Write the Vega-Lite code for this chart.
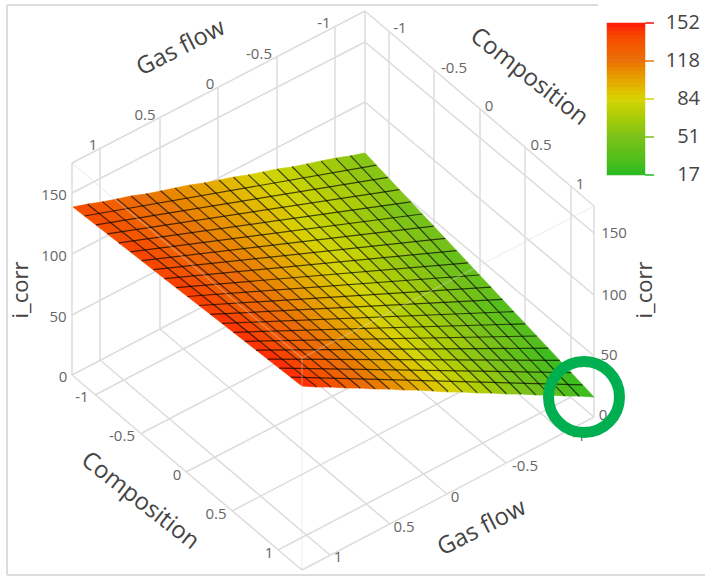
{"$schema":"https://vega.github.io/schema/vega-lite/v6.json","width":705,"height":576,"padding":0,"autosize":{"type":"none"},"background":"white","config":{"view":{"stroke":null}},
"datasets":{
"walls":[
{"x":72,"y":163,"x2":72,"y2":375},{"x":100,"y":148,"x2":100,"y2":360},{"x":160,"y":117,"x2":160,"y2":329},{"x":218,"y":88,"x2":218,"y2":299},{"x":277,"y":57,"x2":277,"y2":268},{"x":335,"y":27,"x2":335,"y2":238},{"x":365,"y":11,"x2":365,"y2":222},
{"x":72,"y":163,"x2":365,"y2":11},{"x":72,"y":193,"x2":365,"y2":42},{"x":72,"y":254,"x2":365,"y2":102},{"x":72,"y":315,"x2":365,"y2":162},{"x":72,"y":375,"x2":365,"y2":222},
{"x":389,"y":31,"x2":389,"y2":242},{"x":434,"y":70,"x2":434,"y2":281},{"x":480,"y":109,"x2":480,"y2":320},{"x":525,"y":147,"x2":525,"y2":358},{"x":571,"y":186,"x2":571,"y2":397},{"x":594,"y":206,"x2":594,"y2":417},
{"x":365,"y":11,"x2":594,"y2":206},{"x":365,"y":42,"x2":594,"y2":233},{"x":365,"y":102,"x2":594,"y2":295},{"x":365,"y":162,"x2":594,"y2":356},{"x":365,"y":222,"x2":594,"y2":417},
{"x":72,"y":375,"x2":302,"y2":570},{"x":302,"y":570,"x2":594,"y2":417},
{"x":95,"y":395,"x2":389,"y2":242},{"x":142,"y":433,"x2":434,"y2":281},{"x":186,"y":472,"x2":480,"y2":320},{"x":232,"y":511,"x2":525,"y2":358},{"x":278,"y":550,"x2":571,"y2":397},
{"x":100,"y":360,"x2":330,"y2":555},{"x":160,"y":329,"x2":390,"y2":524},{"x":218,"y":299,"x2":447,"y2":494},{"x":277,"y":268,"x2":506,"y2":463},{"x":335,"y":238,"x2":564,"y2":433}],
"frame":[{"x":7,"y":5,"x2":598,"y2":5},{"x":7,"y":5,"x2":7,"y2":575},{"x":7,"y":575,"x2":705,"y2":575}],
"cells":[
{"v":137,"type":"Polygon","coordinates":[[[73,207],[88,204],[133,241],[119,243],[73,207]]]},
{"v":133,"type":"Polygon","coordinates":[[[88,204],[102,202],[148,239],[133,241],[88,204]]]},
{"v":129,"type":"Polygon","coordinates":[[[102,202],[117,199],[163,237],[148,239],[102,202]]]},
{"v":124,"type":"Polygon","coordinates":[[[117,199],[131,196],[177,235],[163,237],[117,199]]]},
{"v":120,"type":"Polygon","coordinates":[[[131,196],[146,194],[192,233],[177,235],[131,196]]]},
{"v":116,"type":"Polygon","coordinates":[[[146,194],[161,191],[206,231],[192,233],[146,194]]]},
{"v":111,"type":"Polygon","coordinates":[[[161,191],[175,188],[221,228],[206,231],[161,191]]]},
{"v":107,"type":"Polygon","coordinates":[[[175,188],[190,185],[236,226],[221,228],[175,188]]]},
{"v":103,"type":"Polygon","coordinates":[[[190,185],[204,183],[250,224],[236,226],[190,185]]]},
{"v":98,"type":"Polygon","coordinates":[[[204,183],[219,180],[265,222],[250,224],[204,183]]]},
{"v":94,"type":"Polygon","coordinates":[[[219,180],[234,177],[279,220],[265,222],[219,180]]]},
{"v":90,"type":"Polygon","coordinates":[[[234,177],[248,175],[294,218],[279,220],[234,177]]]},
{"v":85,"type":"Polygon","coordinates":[[[248,175],[263,172],[309,216],[294,218],[248,175]]]},
{"v":81,"type":"Polygon","coordinates":[[[263,172],[277,169],[323,214],[309,216],[263,172]]]},
{"v":77,"type":"Polygon","coordinates":[[[277,169],[292,167],[338,212],[323,214],[277,169]]]},
{"v":72,"type":"Polygon","coordinates":[[[292,167],[307,164],[352,210],[338,212],[292,167]]]},
{"v":68,"type":"Polygon","coordinates":[[[307,164],[321,161],[367,208],[352,210],[307,164]]]},
{"v":64,"type":"Polygon","coordinates":[[[321,161],[336,158],[382,206],[367,208],[321,161]]]},
{"v":59,"type":"Polygon","coordinates":[[[336,158],[350,156],[396,204],[382,206],[336,158]]]},
{"v":55,"type":"Polygon","coordinates":[[[350,156],[365,153],[411,202],[396,204],[350,156]]]},
{"v":140,"type":"Polygon","coordinates":[[[119,243],[133,241],[179,277],[165,279],[119,243]]]},
{"v":135,"type":"Polygon","coordinates":[[[133,241],[148,239],[194,276],[179,277],[133,241]]]},
{"v":130,"type":"Polygon","coordinates":[[[148,239],[163,237],[208,274],[194,276],[148,239]]]},
{"v":125,"type":"Polygon","coordinates":[[[163,237],[177,235],[223,273],[208,274],[163,237]]]},
{"v":120,"type":"Polygon","coordinates":[[[177,235],[192,233],[238,272],[223,273],[177,235]]]},
{"v":115,"type":"Polygon","coordinates":[[[192,233],[206,231],[252,270],[238,272],[192,233]]]},
{"v":111,"type":"Polygon","coordinates":[[[206,231],[221,228],[267,269],[252,270],[206,231]]]},
{"v":106,"type":"Polygon","coordinates":[[[221,228],[236,226],[281,267],[267,269],[221,228]]]},
{"v":101,"type":"Polygon","coordinates":[[[236,226],[250,224],[296,266],[281,267],[236,226]]]},
{"v":96,"type":"Polygon","coordinates":[[[250,224],[265,222],[311,265],[296,266],[250,224]]]},
{"v":91,"type":"Polygon","coordinates":[[[265,222],[279,220],[325,263],[311,265],[265,222]]]},
{"v":86,"type":"Polygon","coordinates":[[[279,220],[294,218],[340,262],[325,263],[279,220]]]},
{"v":81,"type":"Polygon","coordinates":[[[294,218],[309,216],[354,260],[340,262],[294,218]]]},
{"v":77,"type":"Polygon","coordinates":[[[309,216],[323,214],[369,259],[354,260],[309,216]]]},
{"v":72,"type":"Polygon","coordinates":[[[323,214],[338,212],[384,258],[369,259],[323,214]]]},
{"v":67,"type":"Polygon","coordinates":[[[338,212],[352,210],[398,256],[384,258],[338,212]]]},
{"v":62,"type":"Polygon","coordinates":[[[352,210],[367,208],[413,255],[398,256],[352,210]]]},
{"v":57,"type":"Polygon","coordinates":[[[367,208],[382,206],[427,253],[413,255],[367,208]]]},
{"v":52,"type":"Polygon","coordinates":[[[382,206],[396,204],[442,252],[427,253],[382,206]]]},
{"v":47,"type":"Polygon","coordinates":[[[396,204],[411,202],[457,251],[442,252],[396,204]]]},
{"v":142,"type":"Polygon","coordinates":[[[165,279],[179,277],[225,314],[210,314],[165,279]]]},
{"v":137,"type":"Polygon","coordinates":[[[179,277],[194,276],[240,313],[225,314],[179,277]]]},
{"v":131,"type":"Polygon","coordinates":[[[194,276],[208,274],[254,312],[240,313],[194,276]]]},
{"v":126,"type":"Polygon","coordinates":[[[208,274],[223,273],[269,311],[254,312],[208,274]]]},
{"v":121,"type":"Polygon","coordinates":[[[223,273],[238,272],[283,311],[269,311],[223,273]]]},
{"v":115,"type":"Polygon","coordinates":[[[238,272],[252,270],[298,310],[283,311],[238,272]]]},
{"v":110,"type":"Polygon","coordinates":[[[252,270],[267,269],[313,309],[298,310],[252,270]]]},
{"v":104,"type":"Polygon","coordinates":[[[267,269],[281,267],[327,308],[313,309],[267,269]]]},
{"v":99,"type":"Polygon","coordinates":[[[281,267],[296,266],[342,308],[327,308],[281,267]]]},
{"v":94,"type":"Polygon","coordinates":[[[296,266],[311,265],[356,307],[342,308],[296,266]]]},
{"v":88,"type":"Polygon","coordinates":[[[311,265],[325,263],[371,306],[356,307],[311,265]]]},
{"v":83,"type":"Polygon","coordinates":[[[325,263],[340,262],[386,305],[371,306],[325,263]]]},
{"v":77,"type":"Polygon","coordinates":[[[340,262],[354,260],[400,305],[386,305],[340,262]]]},
{"v":72,"type":"Polygon","coordinates":[[[354,260],[369,259],[415,304],[400,305],[354,260]]]},
{"v":67,"type":"Polygon","coordinates":[[[369,259],[384,258],[429,303],[415,304],[369,259]]]},
{"v":61,"type":"Polygon","coordinates":[[[384,258],[398,256],[444,302],[429,303],[384,258]]]},
{"v":56,"type":"Polygon","coordinates":[[[398,256],[413,255],[459,302],[444,302],[398,256]]]},
{"v":50,"type":"Polygon","coordinates":[[[413,255],[427,253],[473,301],[459,302],[413,255]]]},
{"v":45,"type":"Polygon","coordinates":[[[427,253],[442,252],[488,300],[473,301],[427,253]]]},
{"v":40,"type":"Polygon","coordinates":[[[442,252],[457,251],[502,299],[488,300],[442,252]]]},
{"v":145,"type":"Polygon","coordinates":[[[210,314],[225,314],[271,350],[256,350],[210,314]]]},
{"v":139,"type":"Polygon","coordinates":[[[225,314],[240,313],[285,350],[271,350],[225,314]]]},
{"v":133,"type":"Polygon","coordinates":[[[240,313],[254,312],[300,350],[285,350],[240,313]]]},
{"v":127,"type":"Polygon","coordinates":[[[254,312],[269,311],[315,350],[300,350],[254,312]]]},
{"v":121,"type":"Polygon","coordinates":[[[269,311],[283,311],[329,350],[315,350],[269,311]]]},
{"v":115,"type":"Polygon","coordinates":[[[283,311],[298,310],[344,350],[329,350],[283,311]]]},
{"v":109,"type":"Polygon","coordinates":[[[298,310],[313,309],[358,350],[344,350],[298,310]]]},
{"v":103,"type":"Polygon","coordinates":[[[313,309],[327,308],[373,349],[358,350],[313,309]]]},
{"v":97,"type":"Polygon","coordinates":[[[327,308],[342,308],[388,349],[373,349],[327,308]]]},
{"v":91,"type":"Polygon","coordinates":[[[342,308],[356,307],[402,349],[388,349],[342,308]]]},
{"v":85,"type":"Polygon","coordinates":[[[356,307],[371,306],[417,349],[402,349],[356,307]]]},
{"v":79,"type":"Polygon","coordinates":[[[371,306],[386,305],[431,349],[417,349],[371,306]]]},
{"v":73,"type":"Polygon","coordinates":[[[386,305],[400,305],[446,349],[431,349],[386,305]]]},
{"v":68,"type":"Polygon","coordinates":[[[400,305],[415,304],[461,349],[446,349],[400,305]]]},
{"v":62,"type":"Polygon","coordinates":[[[415,304],[429,303],[475,349],[461,349],[415,304]]]},
{"v":56,"type":"Polygon","coordinates":[[[429,303],[444,302],[490,349],[475,349],[429,303]]]},
{"v":50,"type":"Polygon","coordinates":[[[444,302],[459,302],[504,349],[490,349],[444,302]]]},
{"v":44,"type":"Polygon","coordinates":[[[459,302],[473,301],[519,348],[504,349],[459,302]]]},
{"v":38,"type":"Polygon","coordinates":[[[473,301],[488,300],[534,348],[519,348],[473,301]]]},
{"v":32,"type":"Polygon","coordinates":[[[488,300],[502,299],[548,348],[534,348],[488,300]]]},
{"v":147,"type":"Polygon","coordinates":[[[256,350],[271,350],[317,387],[302,386],[256,350]]]},
{"v":141,"type":"Polygon","coordinates":[[[271,350],[285,350],[331,387],[317,387],[271,350]]]},
{"v":134,"type":"Polygon","coordinates":[[[285,350],[300,350],[346,388],[331,387],[285,350]]]},
{"v":128,"type":"Polygon","coordinates":[[[300,350],[315,350],[360,388],[346,388],[300,350]]]},
{"v":121,"type":"Polygon","coordinates":[[[315,350],[329,350],[375,389],[360,388],[315,350]]]},
{"v":115,"type":"Polygon","coordinates":[[[329,350],[344,350],[390,389],[375,389],[329,350]]]},
{"v":108,"type":"Polygon","coordinates":[[[344,350],[358,350],[404,390],[390,389],[344,350]]]},
{"v":102,"type":"Polygon","coordinates":[[[358,350],[373,349],[419,390],[404,390],[358,350]]]},
{"v":96,"type":"Polygon","coordinates":[[[373,349],[388,349],[433,391],[419,390],[373,349]]]},
{"v":89,"type":"Polygon","coordinates":[[[388,349],[402,349],[448,392],[433,391],[388,349]]]},
{"v":83,"type":"Polygon","coordinates":[[[402,349],[417,349],[463,392],[448,392],[402,349]]]},
{"v":76,"type":"Polygon","coordinates":[[[417,349],[431,349],[477,393],[463,392],[417,349]]]},
{"v":70,"type":"Polygon","coordinates":[[[431,349],[446,349],[492,393],[477,393],[431,349]]]},
{"v":63,"type":"Polygon","coordinates":[[[446,349],[461,349],[506,394],[492,393],[446,349]]]},
{"v":57,"type":"Polygon","coordinates":[[[461,349],[475,349],[521,394],[506,394],[461,349]]]},
{"v":50,"type":"Polygon","coordinates":[[[475,349],[490,349],[536,395],[521,394],[475,349]]]},
{"v":44,"type":"Polygon","coordinates":[[[490,349],[504,349],[550,395],[536,395],[490,349]]]},
{"v":37,"type":"Polygon","coordinates":[[[504,349],[519,348],[565,396],[550,395],[504,349]]]},
{"v":31,"type":"Polygon","coordinates":[[[519,348],[534,348],[579,396],[565,396],[519,348]]]},
{"v":24,"type":"Polygon","coordinates":[[[534,348],[548,348],[594,397],[579,396],[534,348]]]}],
"mesh":[
{"x":87.6,"y":204.3,"x2":316.6,"y2":386.6},{"x":102.2,"y":201.6,"x2":331.2,"y2":387.1},{"x":116.8,"y":198.9,"x2":345.8,"y2":387.7},{"x":131.4,"y":196.2,"x2":360.4,"y2":388.2},{"x":146,"y":193.5,"x2":375,"y2":388.8},{"x":160.6,"y":190.8,"x2":389.6,"y2":389.3},{"x":175.2,"y":188.1,"x2":404.2,"y2":389.9},{"x":189.8,"y":185.4,"x2":418.8,"y2":390.4},{"x":204.4,"y":182.7,"x2":433.4,"y2":391},{"x":219,"y":180,"x2":448,"y2":391.5},{"x":233.6,"y":177.3,"x2":462.6,"y2":392.1},{"x":248.2,"y":174.6,"x2":477.2,"y2":392.6},{"x":262.8,"y":171.9,"x2":491.8,"y2":393.2},{"x":277.4,"y":169.2,"x2":506.4,"y2":393.7},{"x":292,"y":166.5,"x2":521,"y2":394.3},{"x":306.6,"y":163.8,"x2":535.6,"y2":394.8},{"x":321.2,"y":161.1,"x2":550.2,"y2":395.4},{"x":335.8,"y":158.4,"x2":564.8,"y2":395.9},{"x":350.4,"y":155.7,"x2":579.4,"y2":396.5},
{"x":84.5,"y":216,"x2":376.5,"y2":165.2},{"x":95.9,"y":224.9,"x2":387.9,"y2":177.4},{"x":107.4,"y":233.9,"x2":399.4,"y2":189.6},{"x":118.8,"y":242.8,"x2":410.8,"y2":201.8},{"x":130.3,"y":251.8,"x2":422.3,"y2":214},{"x":141.7,"y":260.7,"x2":433.7,"y2":226.2},{"x":153.2,"y":269.7,"x2":445.2,"y2":238.4},{"x":164.6,"y":278.6,"x2":456.6,"y2":250.6},{"x":176.1,"y":287.6,"x2":468.1,"y2":262.8},{"x":187.5,"y":296.5,"x2":479.5,"y2":275},{"x":199,"y":305.5,"x2":491,"y2":287.2},{"x":210.4,"y":314.4,"x2":502.4,"y2":299.4},{"x":221.9,"y":323.4,"x2":513.9,"y2":311.6},{"x":233.3,"y":332.3,"x2":525.3,"y2":323.8},{"x":244.8,"y":341.3,"x2":536.8,"y2":336},{"x":256.2,"y":350.2,"x2":548.2,"y2":348.2},{"x":267.7,"y":359.2,"x2":559.7,"y2":360.4},{"x":279.1,"y":368.1,"x2":571.1,"y2":372.6},{"x":290.6,"y":377.1,"x2":582.6,"y2":384.8}],
"faint":[{"x":72,"y":163,"x2":302,"y2":358},{"x":302,"y":358,"x2":594,"y2":206},{"x":302,"y":358,"x2":302,"y2":570}],
"ticksLabels":[
{"t":"1","x":93,"y":145},{"t":"0.5","x":145,"y":115},{"t":"0","x":210,"y":84},{"t":"-0.5","x":259,"y":54},{"t":"-1","x":324,"y":23},
{"t":"-1","x":400,"y":28},{"t":"-0.5","x":454,"y":68},{"t":"0","x":489,"y":106},{"t":"0.5","x":541,"y":145},{"t":"1","x":580,"y":184},
{"t":"150","x":54,"y":195},{"t":"100","x":54,"y":256},{"t":"50","x":58,"y":317},{"t":"0","x":63,"y":377},
{"t":"150","x":614,"y":233},{"t":"100","x":614,"y":295},{"t":"50","x":609,"y":355},{"t":"0","x":603,"y":415},
{"t":"-1","x":82,"y":397},{"t":"-0.5","x":122,"y":436},{"t":"0","x":177,"y":475},{"t":"0.5","x":216,"y":514},{"t":"1","x":269,"y":553},
{"t":"1","x":338,"y":557},{"t":"0.5","x":404,"y":527},{"t":"0","x":455,"y":497},{"t":"-0.5","x":525,"y":466},{"t":"-1","x":579,"y":436}],
"legendTicks":[{"v":152,"t":"152","y":23},{"v":118,"t":"118","y":61},{"v":84,"t":"84","y":99},{"v":51,"t":"51","y":137},{"v":17,"t":"17","y":175}],
"colorbar":[{"v":150,"y":23,"y2":27},{"v":147,"y":27,"y2":31},{"v":143,"y":31,"y2":35},{"v":139,"y":35,"y2":39},{"v":136,"y":39,"y2":43},{"v":132,"y":43,"y2":47},{"v":129,"y":47,"y2":51},{"v":125,"y":51,"y2":55},{"v":122,"y":55,"y2":59},{"v":118,"y":59,"y2":63},{"v":115,"y":63,"y2":67},{"v":111,"y":67,"y2":71},{"v":107,"y":71,"y2":75},{"v":104,"y":75,"y2":79},{"v":100,"y":79,"y2":83},{"v":97,"y":83,"y2":87},{"v":93,"y":87,"y2":91},{"v":90,"y":91,"y2":95},{"v":86,"y":95,"y2":99},{"v":83,"y":99,"y2":103},{"v":79,"y":103,"y2":107},{"v":75,"y":107,"y2":111},{"v":72,"y":111,"y2":115},{"v":68,"y":115,"y2":119},{"v":65,"y":119,"y2":123},{"v":61,"y":123,"y2":127},{"v":58,"y":127,"y2":131},{"v":54,"y":131,"y2":135},{"v":51,"y":135,"y2":139},{"v":47,"y":139,"y2":143},{"v":43,"y":143,"y2":147},{"v":40,"y":147,"y2":151},{"v":36,"y":151,"y2":155},{"v":33,"y":155,"y2":159},{"v":29,"y":159,"y2":163},{"v":26,"y":163,"y2":167},{"v":22,"y":167,"y2":171},{"v":19,"y":171,"y2":175}]
},
"layer":[
{"data":{"name":"frame"},"mark":{"type":"rule","stroke":"#d2d2d2","strokeWidth":1.5},"encoding":{"x":{"field":"x","type":"quantitative","scale":{"domain":[0,705],"nice":false,"zero":false},"axis":null},"y":{"field":"y","type":"quantitative","scale":{"domain":[576,0],"nice":false,"zero":false},"axis":null},"x2":{"field":"x2"},"y2":{"field":"y2"}}},
{"data":{"name":"walls"},"mark":{"type":"rule","stroke":"#dcdcdc","strokeWidth":1.5},"encoding":{"x":{"field":"x","type":"quantitative","axis":null},"y":{"field":"y","type":"quantitative","axis":null},"x2":{"field":"x2"},"y2":{"field":"y2"}}},
{"data":{"name":"cells"},"projection":{"type":"identity","scale":1,"translate":[0,0]},"mark":{"type":"geoshape","strokeWidth":0.7},"encoding":{
"fill":{"field":"v","type":"quantitative","scale":{"domain":[17,51,84,118,152],"range":["#22bb22","#7cc21a","#d6d40a","#ea720c","#ff0f0a"]},"legend":null},
"stroke":{"field":"v","type":"quantitative","scale":{"domain":[17,51,84,118,152],"range":["#22bb22","#7cc21a","#d6d40a","#ea720c","#ff0f0a"]},"legend":null}}},
{"data":{"name":"mesh"},"mark":{"type":"rule","stroke":"#000000","strokeWidth":1.2,"opacity":0.68},"encoding":{"x":{"field":"x","type":"quantitative","axis":null},"y":{"field":"y","type":"quantitative","axis":null},"x2":{"field":"x2"},"y2":{"field":"y2"}}},
{"data":{"name":"faint"},"mark":{"type":"rule","stroke":"#dddddd","strokeWidth":1.2,"opacity":0.4},"encoding":{"x":{"field":"x","type":"quantitative","axis":null},"y":{"field":"y","type":"quantitative","axis":null},"x2":{"field":"x2"},"y2":{"field":"y2"}}},
{"data":{"name":"colorbar"},"mark":{"type":"rect","strokeWidth":0.5},"encoding":{"x":{"datum":607,"type":"quantitative","axis":null},"x2":{"datum":645},"y":{"field":"y","type":"quantitative","axis":null},"y2":{"field":"y2"},"fill":{"field":"v","type":"quantitative","legend":null},"stroke":{"field":"v","type":"quantitative","legend":null}}},
{"data":{"name":"legendTicks"},"mark":{"type":"rule","strokeWidth":1.5},"encoding":{"x":{"datum":645,"type":"quantitative","axis":null},"x2":{"datum":654},"y":{"field":"y","type":"quantitative","axis":null},"stroke":{"field":"v","type":"quantitative","legend":null}}},
{"data":{"name":"legendTicks"},"mark":{"type":"text","font":"Open Sans","fontSize":20,"fill":"#444444","align":"right","baseline":"middle"},"encoding":{"x":{"datum":700,"type":"quantitative","axis":null},"y":{"field":"y","type":"quantitative","axis":null},"text":{"field":"t"}}},
{"data":{"name":"ticksLabels"},"mark":{"type":"text","font":"Open Sans","fontSize":15,"fill":"#666666","align":"center","baseline":"middle"},"encoding":{"x":{"field":"x","type":"quantitative","axis":null},"y":{"field":"y","type":"quantitative","axis":null},"text":{"field":"t"}}},
{"data":{"values":[{"t":"Gas flow","x":181,"y":48},{"t":"Gas flow","x":482,"y":528}]},"mark":{"type":"text","font":"Open Sans","fontSize":24,"fill":"#444444","angle":333,"align":"center","baseline":"middle"},"encoding":{"x":{"field":"x","type":"quantitative","axis":null},"y":{"field":"y","type":"quantitative","axis":null},"text":{"field":"t"}}},
{"data":{"values":[{"t":"Composition","x":529,"y":77},{"t":"Composition","x":140,"y":501}]},"mark":{"type":"text","font":"Open Sans","fontSize":24,"fill":"#444444","angle":38,"align":"center","baseline":"middle"},"encoding":{"x":{"field":"x","type":"quantitative","axis":null},"y":{"field":"y","type":"quantitative","axis":null},"text":{"field":"t"}}},
{"data":{"values":[{"t":"i_corr","x":21,"y":290},{"t":"i_corr","x":645,"y":290}]},"mark":{"type":"text","font":"Open Sans","fontSize":22,"fill":"#444444","angle":270,"align":"center","baseline":"middle"},"encoding":{"x":{"field":"x","type":"quantitative","axis":null},"y":{"field":"y","type":"quantitative","axis":null},"text":{"field":"t"}}},
{"data":{"values":[{"x":584,"y":397}]},"mark":{"type":"point","filled":false,"stroke":"#00b050","strokeWidth":11,"size":5041,"opacity":1},"encoding":{"x":{"field":"x","type":"quantitative","axis":null},"y":{"field":"y","type":"quantitative","axis":null}}}
]}
